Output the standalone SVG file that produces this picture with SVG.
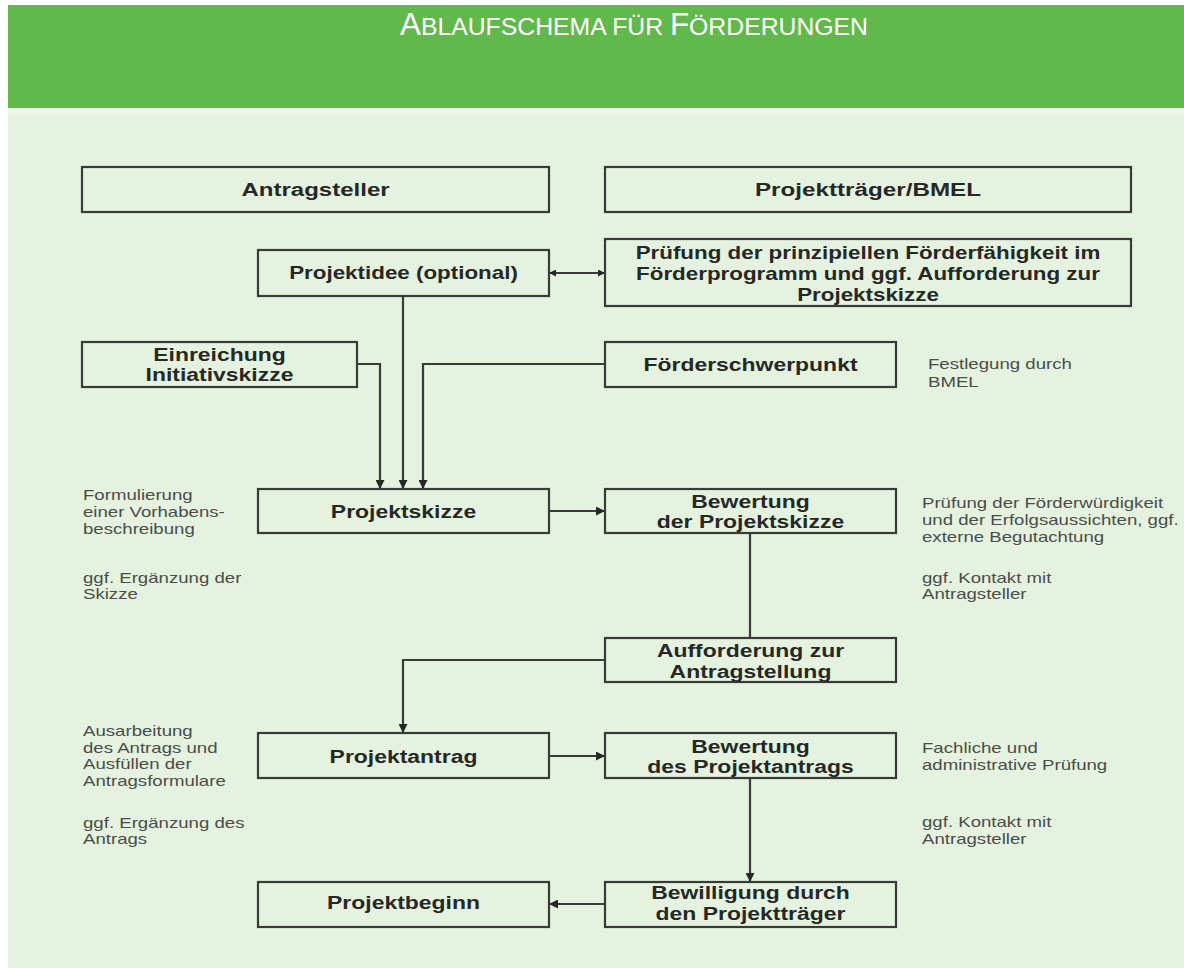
<svg xmlns="http://www.w3.org/2000/svg" width="1184" height="968" viewBox="0 0 1184 968">
<style>
.box{fill:none;stroke:#383b38;stroke-width:2.2}
.lbl{font-family:"Liberation Sans",Arial,sans-serif;font-weight:bold;font-size:18.5px;fill:#262826;text-anchor:middle}
.ann{font-family:"Liberation Sans",Arial,sans-serif;font-size:14px;fill:#4a4d4a}
.con{fill:none;stroke:#383b38;stroke-width:2.2}
.title{font-family:"Liberation Sans",Arial,sans-serif;fill:#ffffff;text-anchor:start}
</style>
<defs>
<marker id="ah" viewBox="0 0 10 10" refX="10" refY="5" markerWidth="10" markerHeight="9" markerUnits="userSpaceOnUse" orient="auto-start-reverse">
<path d="M0,0 L10,5 L0,10 Z" fill="#262826"/>
</marker>
<marker id="ahs" viewBox="0 0 10 10" refX="10" refY="5" markerWidth="9" markerHeight="7" markerUnits="userSpaceOnUse" orient="auto-start-reverse">
<path d="M0,0 L10,5 L0,10 Z" fill="#262826"/>
</marker>
</defs>
<rect x="0" y="0" width="1184" height="968" fill="#ffffff"/>
<rect x="8" y="5" width="1176" height="963" fill="#e5f2df"/>
<rect x="8" y="5" width="1176" height="103" fill="#62b94b"/>
<rect x="8" y="108" width="1176" height="7" fill="#ecf6e9"/>
<text class="title" x="400" y="35" textLength="468" lengthAdjust="spacingAndGlyphs"><tspan font-size="31">A</tspan><tspan font-size="24.5">BLAUFSCHEMA FÜR </tspan><tspan font-size="31">F</tspan><tspan font-size="24.5">ÖRDERUNGEN</tspan></text>

<g id="connectors">
<line class="con" x1="549" y1="273" x2="605" y2="273" marker-start="url(#ahs)" marker-end="url(#ahs)"/>
<polyline class="con" points="403,296 403,489" marker-end="url(#ah)"/>
<polyline class="con" points="357,364 380,364 380,489" marker-end="url(#ah)"/>
<polyline class="con" points="605,364 423,364 423,489" marker-end="url(#ah)"/>
<line class="con" x1="549" y1="511" x2="605" y2="511" marker-end="url(#ah)"/>
<line class="con" x1="750" y1="533" x2="750" y2="638"/>
<polyline class="con" points="605,660 403,660 403,733" marker-end="url(#ah)"/>
<line class="con" x1="549" y1="756" x2="605" y2="756" marker-end="url(#ah)"/>
<line class="con" x1="750" y1="778" x2="750" y2="882" marker-end="url(#ah)"/>
<line class="con" x1="605" y1="904" x2="549" y2="904" marker-end="url(#ah)"/>
</g>

<g id="antragsteller">
<rect class="box" x="82" y="167" width="467" height="45"/>
<text class="lbl" transform="translate(315.5,196) scale(1.3,1)">Antragsteller</text>
</g>
<g id="projekttraeger">
<rect class="box" x="605" y="167" width="526" height="45"/>
<text class="lbl" transform="translate(868,196) scale(1.31,1)">Projektträger/BMEL</text>
</g>
<g id="projektidee">
<rect class="box" x="258" y="250" width="291" height="46"/>
<text class="lbl" transform="translate(403.5,279) scale(1.21,1)">Projektidee (optional)</text>
</g>
<g id="pruefung">
<rect class="box" x="605" y="239" width="526" height="67"/>
<text class="lbl" transform="translate(868,259) scale(1.21,1)"><tspan x="0" y="0">Prüfung der prinzipiellen Förderfähigkeit im</tspan><tspan x="0" y="21">Förderprogramm und ggf. Aufforderung zur</tspan><tspan x="0" y="42">Projektskizze</tspan></text>
</g>
<g id="einreichung">
<rect class="box" x="82" y="342" width="275" height="45"/>
<text class="lbl" transform="translate(219.5,361) scale(1.24,1)"><tspan x="0" y="0">Einreichung</tspan><tspan x="0" y="20">Initiativskizze</tspan></text>
</g>
<g id="foerderschwerpunkt">
<rect class="box" x="605" y="342" width="291" height="45"/>
<text class="lbl" transform="translate(750.5,371) scale(1.24,1)">Förderschwerpunkt</text>
</g>
<g id="projektskizze">
<rect class="box" x="258" y="489" width="291" height="44"/>
<text class="lbl" transform="translate(403.5,518) scale(1.24,1)">Projektskizze</text>
</g>
<g id="bewertung-skizze">
<rect class="box" x="605" y="489" width="291" height="44"/>
<text class="lbl" transform="translate(750.5,508) scale(1.24,1)"><tspan x="0" y="0">Bewertung</tspan><tspan x="0" y="20">der Projektskizze</tspan></text>
</g>
<g id="aufforderung">
<rect class="box" x="605" y="638" width="291" height="44"/>
<text class="lbl" transform="translate(750.5,657) scale(1.24,1)"><tspan x="0" y="0">Aufforderung zur</tspan><tspan x="0" y="21">Antragstellung</tspan></text>
</g>
<g id="projektantrag">
<rect class="box" x="258" y="733" width="291" height="45"/>
<text class="lbl" transform="translate(403.5,763) scale(1.24,1)">Projektantrag</text>
</g>
<g id="bewertung-antrag">
<rect class="box" x="605" y="733" width="291" height="45"/>
<text class="lbl" transform="translate(750.5,753) scale(1.24,1)"><tspan x="0" y="0">Bewertung</tspan><tspan x="0" y="20">des Projektantrags</tspan></text>
</g>
<g id="projektbeginn">
<rect class="box" x="258" y="882" width="291" height="45"/>
<text class="lbl" transform="translate(403.5,909) scale(1.24,1)">Projektbeginn</text>
</g>
<g id="bewilligung">
<rect class="box" x="605" y="882" width="291" height="45"/>
<text class="lbl" transform="translate(750.5,899) scale(1.24,1)"><tspan x="0" y="0">Bewilligung durch</tspan><tspan x="0" y="21">den Projektträger</tspan></text>
</g>

<g id="annotations">
<text class="ann" transform="translate(928,369) scale(1.33,1)"><tspan x="0" y="0">Festlegung durch</tspan><tspan x="0" y="18">BMEL</tspan></text>
<text class="ann" transform="translate(83,500) scale(1.33,1)"><tspan x="0" y="0">Formulierung</tspan><tspan x="0" y="17">einer Vorhabens-</tspan><tspan x="0" y="34">beschreibung</tspan></text>
<text class="ann" transform="translate(83,583) scale(1.33,1)"><tspan x="0" y="0">ggf. Ergänzung  der</tspan><tspan x="0" y="16">Skizze</tspan></text>
<text class="ann" transform="translate(922,508) scale(1.33,1)"><tspan x="0" y="0">Prüfung der Förderwürdigkeit</tspan><tspan x="0" y="17">und der Erfolgsaussichten, ggf.</tspan><tspan x="0" y="34">externe Begutachtung</tspan></text>
<text class="ann" transform="translate(922,583) scale(1.33,1)"><tspan x="0" y="0">ggf. Kontakt mit</tspan><tspan x="0" y="16">Antragsteller</tspan></text>
<text class="ann" transform="translate(83,736) scale(1.33,1)"><tspan x="0" y="0">Ausarbeitung</tspan><tspan x="0" y="17">des Antrags und</tspan><tspan x="0" y="33">Ausfüllen der</tspan><tspan x="0" y="50">Antragsformulare</tspan></text>
<text class="ann" transform="translate(83,828) scale(1.33,1)"><tspan x="0" y="0">ggf. Ergänzung des</tspan><tspan x="0" y="16">Antrags</tspan></text>
<text class="ann" transform="translate(922,753) scale(1.33,1)"><tspan x="0" y="0">Fachliche und</tspan><tspan x="0" y="17">administrative Prüfung</tspan></text>
<text class="ann" transform="translate(922,827) scale(1.33,1)"><tspan x="0" y="0">ggf. Kontakt mit</tspan><tspan x="0" y="17">Antragsteller</tspan></text>
</g>
</svg>
